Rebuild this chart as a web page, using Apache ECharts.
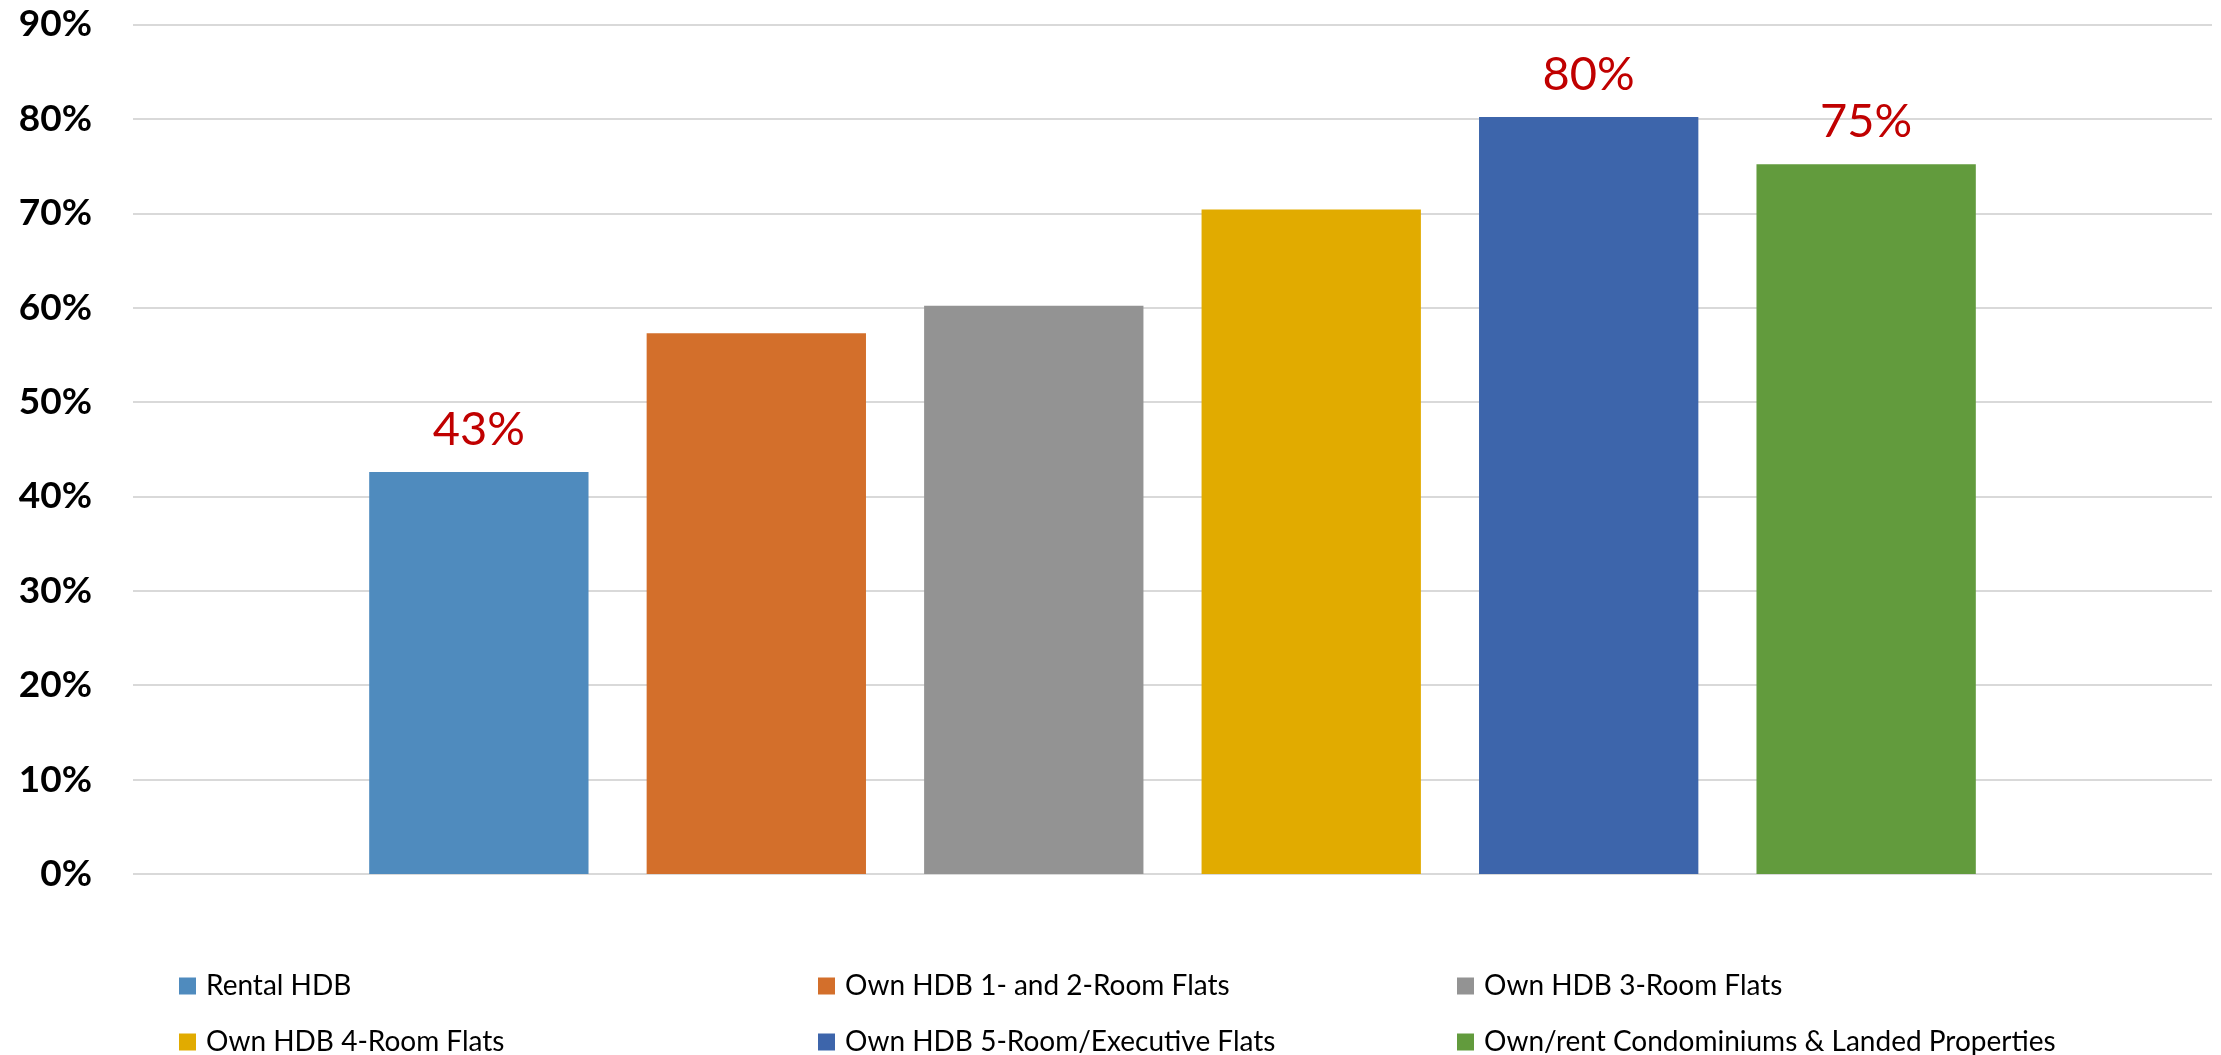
<!DOCTYPE html>
<html>
<head>
<meta charset="utf-8">
<title>Housing type shares</title>
<script src="https://cdn.jsdelivr.net/npm/echarts@6/dist/echarts.min.js"></script>
<style>
  html, body { margin: 0; padding: 0; background: #ffffff; }
  #chart { width: 2221px; height: 1055px; }
</style>
</head>
<body>
<div id="chart"></div>
<script>
// Housing types, one bar each
const housingTypes = [
  'Rental HDB',
  'Own HDB 1- and 2-Room Flats',
  'Own HDB 3-Room Flats',
  'Own HDB 4-Room Flats',
  'Own HDB 5-Room/Executive Flats',
  'Own/rent Condominiums & Landed Properties'
];
// Share (%) for each housing type
const shareValues = [42.6, 57.3, 60.2, 70.4, 80.2, 75.2];
// Bars that carry a value label
const labelledTypes = ['Rental HDB', 'Own HDB 5-Room/Executive Flats', 'Own/rent Condominiums & Landed Properties'];
// Y-axis ticks
const yTicks = [0, 10, 20, 30, 40, 50, 60, 70, 80, 90];

const barColors = ['#4F8BBE', '#D36F2B', '#939393', '#E1AB00', '#3D65AB', '#629B3D'];

const chart = echarts.init(document.getElementById('chart'), null, { renderer: 'canvas' });

const series = housingTypes.map((name, i) => ({
  name: name,
  type: 'bar',
  data: [shareValues[i]],
  barWidth: '10.55%',
  barGap: '26.5%',
  itemStyle: { color: barColors[i] },
  label: {
    show: labelledTypes.includes(name),
    position: 'top',
    distance: 19,
    color: '#C00000',
    fontFamily: 'Lato',
    fontSize: 47,
    formatter: p => Math.round(p.value) + '%'
  },
  emphasis: { disabled: true }
}));

chart.setOption({
  animation: false,
  backgroundColor: '#ffffff',
  grid: { left: 133, right: 9, top: 24.5, bottom: 181, containLabel: false },
  xAxis: {
    type: 'category',
    data: [''],
    axisLine: { show: false },
    axisTick: { show: false },
    axisLabel: { show: false }
  },
  yAxis: {
    type: 'value',
    min: yTicks[0],
    max: yTicks[yTicks.length - 1],
    interval: yTicks[1] - yTicks[0],
    axisLine: { show: false },
    axisTick: { show: false },
    splitLine: { lineStyle: { color: '#D9D9D9', width: 2 } },
    axisLabel: {
      formatter: '{value}%',
      fontFamily: 'Lato',
      fontWeight: 'bold',
      fontSize: 37,
      color: '#000000',
      margin: 41
    }
  },
  legend: {
    data: housingTypes,
    orient: 'horizontal',
    left: 174,
    top: 958,
    width: 1960,
    itemWidth: 17,
    itemHeight: 17,
    itemGap: 10,
    icon: 'rect',
    selectedMode: false,
    textStyle: {
      fontFamily: 'Lato',
      fontSize: 28,
      color: '#000000',
      width: 602,
      lineHeight: 46,
      padding: [0, 0, 0, 5]
    }
  },
  series: series
});
</script>
</body>
</html>
